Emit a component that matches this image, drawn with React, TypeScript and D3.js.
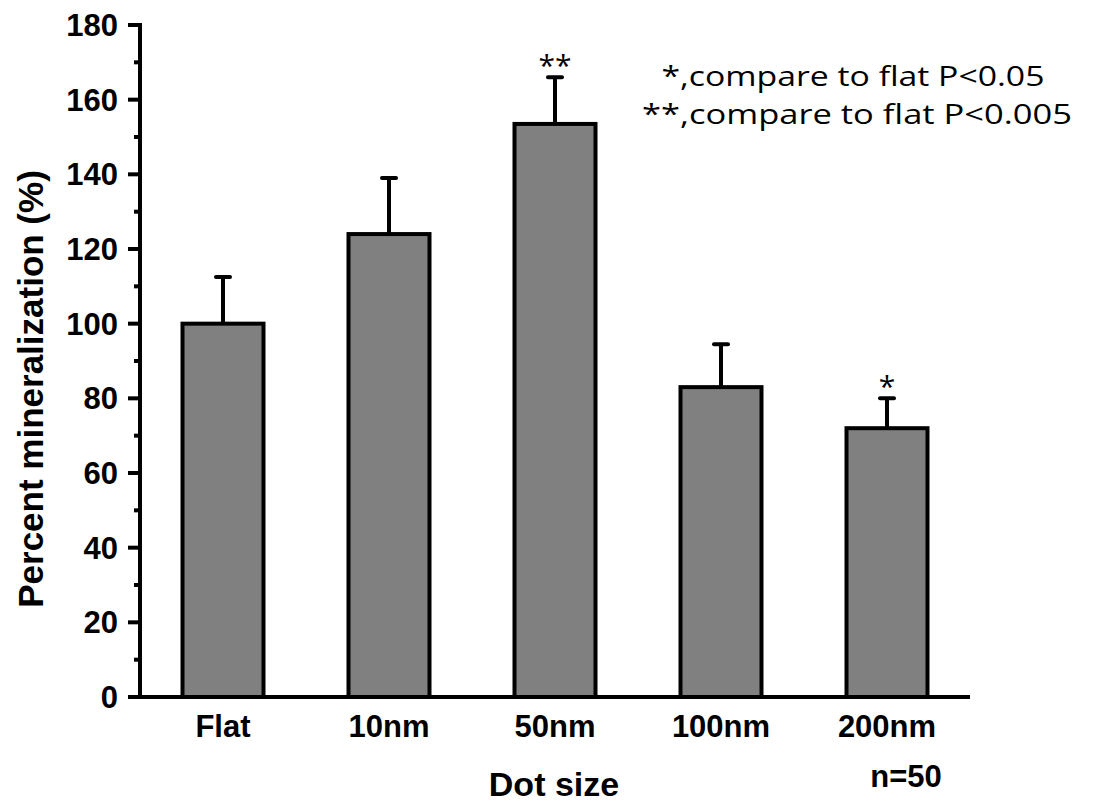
import React from "react";
import * as d3 from "d3";

const categories = ["Flat", "10nm", "50nm", "100nm", "200nm"];
const means = [100, 124, 153.5, 83, 72];
const errors = [12.5, 15, 12.5, 11.5, 8];
const significance = ["", "", "**", "", "*"];
const yTicks = [0, 20, 40, 60, 80, 100, 120, 140, 160, 180];
const yMinorTicks = [10, 30, 50, 70, 90, 110, 130, 150, 170];
const legendLines = ["*,compare to flat P<0.05", "**,compare to flat P<0.005"];
const legendWidths = [383, 430];
const xTitle = "Dot size";
const yTitle = "Percent mineralization (%)";
const note = "n=50";

const W = 1098;
const H = 802;
const axisX = 140;
const axisRight = 970;
const y0 = 697;
const yTop = 25;

export default function App() {
  const x = d3
    .scaleBand<string>()
    .domain(categories)
    .range([axisX, axisRight])
    .paddingInner(0.5)
    .paddingOuter(0.25);
  const y = d3.scaleLinear().domain([0, 180]).range([y0, yTop]);
  const bw = x.bandwidth() - 2;
  const arial = "'Liberation Sans', Arial, sans-serif";
  const calibri = "'Open Sans', Lato, sans-serif";

  return (
    <svg
      width={W}
      height={H}
      style={{ position: "absolute", left: 0, top: 0, background: "#fff" }}
    >
      <rect x={0} y={0} width={W} height={H} fill="#fff" />
      {categories.map((c, i) => {
        const cx = (x(c) as number) + x.bandwidth() / 2;
        const top = y(means[i]);
        const errTop = y(means[i] + errors[i]);
        return (
          <g key={c}>
            <line x1={cx} x2={cx} y1={top} y2={errTop} stroke="#000" strokeWidth={4} />
            <line
              x1={cx - 7}
              x2={cx + 7}
              y1={errTop}
              y2={errTop}
              stroke="#000"
              strokeWidth={4}
              strokeLinecap="round"
            />
            <rect
              x={cx - bw / 2}
              y={top}
              width={bw}
              height={y0 - top}
              fill="#808080"
              stroke="#000"
              strokeWidth={4}
            />
            {significance[i] && (
              <text
                x={cx}
                y={errTop - 1}
                textAnchor="middle"
                fontFamily={calibri}
                fontSize={30}
                fill="#000"
              >
                {significance[i]}
              </text>
            )}
            <text
              x={cx}
              y={737}
              textAnchor="middle"
              fontFamily={arial}
              fontWeight="bold"
              fontSize={31}
              fill="#000"
            >
              {c}
            </text>
          </g>
        );
      })}
      <line x1={axisX} x2={axisX} y1={yTop - 2} y2={y0 + 2} stroke="#000" strokeWidth={4} />
      <line x1={axisX - 12} x2={axisRight} y1={y0} y2={y0} stroke="#000" strokeWidth={4} />
      {yTicks.map((t) => (
        <g key={t}>
          <line x1={axisX - 12} x2={axisX} y1={y(t)} y2={y(t)} stroke="#000" strokeWidth={4} />
          <text
            x={118}
            y={y(t) + 11}
            textAnchor="end"
            fontFamily={arial}
            fontWeight="bold"
            fontSize={31}
            fill="#000"
          >
            {t}
          </text>
        </g>
      ))}
      {yMinorTicks.map((t) => (
        <line key={t} x1={axisX - 6} x2={axisX} y1={y(t)} y2={y(t)} stroke="#000" strokeWidth={4} />
      ))}
      <text
        transform={`translate(43,389) rotate(-90)`}
        textAnchor="middle"
        fontFamily={arial}
        fontWeight="bold"
        fontSize={35}
        fill="#000"
      >
        {yTitle}
      </text>
      <text
        x={554}
        y={796}
        textAnchor="middle"
        fontFamily={arial}
        fontWeight="bold"
        fontSize={34}
        fill="#000"
      >
        {xTitle}
      </text>
      <text
        x={906}
        y={787}
        textAnchor="middle"
        fontFamily={arial}
        fontWeight="bold"
        fontSize={31}
        fill="#000"
      >
        {note}
      </text>
      {legendLines.map((l, i) => (
        <text
          key={l}
          x={i === 0 ? 853 : 857}
          y={86 + i * 38}
          textAnchor="middle"
          fontFamily={calibri}
          fontSize={28}
          textLength={legendWidths[i]}
          lengthAdjust="spacingAndGlyphs"
          fill="#000"
        >
          {l}
        </text>
      ))}
    </svg>
  );
}
